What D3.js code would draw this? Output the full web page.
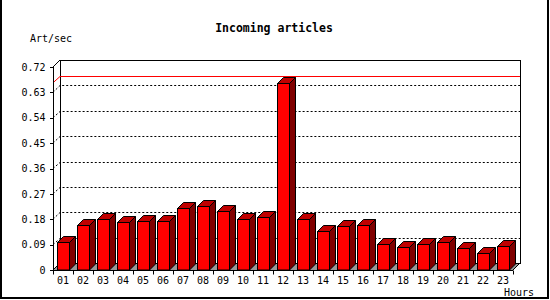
<!DOCTYPE html>
<html>
<head>
<meta charset="utf-8">
<script src="https://cdn.jsdelivr.net/npm/d3@7"></script>
<style>
  body { margin: 0; background: #fff; }
  svg { display: block; }
  text { font-family: "DejaVu Sans Mono", monospace; fill: #000; }
</style>
</head>
<body>
<svg id="chart" width="550" height="300"></svg>
<script>
// data
const hours = ['01','02','03','04','05','06','07','08','09','10','11','12',
  '13','14','15','16','17','18','19','20','21','22','23'];
const artPerSec = [0.098, 0.158, 0.180, 0.169, 0.173, 0.173, 0.219, 0.226, 0.208, 0.180, 0.187, 0.664,
  0.180, 0.137, 0.155, 0.158, 0.091, 0.080, 0.091, 0.098, 0.077, 0.059, 0.084];
const yTicks = [0, 0.09, 0.18, 0.27, 0.36, 0.45, 0.54, 0.63, 0.72];

const svg = d3.select('#chart');
const depth = 7;      // axis/back-wall offset
const barDepth = 6;

const x = d3.scaleBand()
  .domain(hours)
  .range([53, 513])
  .paddingInner(0.4)
  .paddingOuter(0.2);
const y = d3.scaleLinear()
  .domain([0, 0.72])
  .range([270, 67]);

const x0 = x.range()[0], x1 = x.range()[1];
const y0 = y(0), yTop = y(0.72);

// outer frame (left, right, bottom)
svg.append('path')
  .attr('d', 'M1,0 V298 H548 V0')
  .attr('fill', 'none')
  .attr('stroke', '#000')
  .attr('stroke-width', 2);

// floor
svg.append('path')
  .attr('d', `M${x0},${y0} L${x0 + depth},${y0 - depth} L${x1 + depth},${y0 - depth} L${x1},${y0} Z`)
  .attr('fill', '#999')
  .attr('stroke', 'none');

// back wall box
svg.append('path')
  .attr('d', `M${x0 + depth + 0.5},${y0 - depth} V${yTop - depth + 0.5} H${x1 + depth + 0.5} V${y0 - depth + 0.5} H${x0 + depth}`)
  .attr('fill', 'none')
  .attr('stroke', '#000')
  .attr('shape-rendering', 'crispEdges');
svg.append('path')
  .attr('d', `M${x0},${yTop} L${x0 + depth},${yTop - depth} M${x0},${y0} L${x0 + depth},${y0 - depth} M${x1},${y0} L${x1 + depth},${y0 - depth}`)
  .attr('fill', 'none')
  .attr('stroke', '#000');

// dotted grid
svg.append('g')
  .selectAll('path')
  .data(yTicks.filter(d => d > 0 && d < 0.72))
  .enter()
  .append('path')
  .attr('d', d => `M${x0},${y(d)} L${x0 + depth},${Math.round(y(d)) - depth + 0.5} H${x1 + depth}`)
  .attr('fill', 'none')
  .attr('stroke', '#000')
  .attr('stroke-dasharray', '2,2');

// max line
const maxV = d3.max(artPerSec);
svg.append('path')
  .attr('d', `M${x0},${y(maxV)} L${x0 + depth},${Math.round(y(maxV)) - depth + 0.5} H${x1 + depth}`)
  .attr('fill', 'none')
  .attr('stroke', '#f00');

// bars
const bars = svg.append('g')
  .selectAll('g')
  .data(hours.map((h, i) => ({ hour: h, value: artPerSec[i] })))
  .enter()
  .append('g')
  .attr('stroke', '#000')
  .attr('stroke-linejoin', 'miter');

bars.append('path')
  .attr('d', d => {
    const bx = Math.round(x(d.hour)) + 0.5, bw = x.bandwidth(), by = Math.round(y(d.value)) + 0.5;
    return `M${bx + bw},${y0} L${bx + bw + barDepth},${y0 - barDepth} V${by - barDepth} L${bx + bw},${by} Z`;
  })
  .attr('fill', '#800000');
bars.append('path')
  .attr('d', d => {
    const bx = Math.round(x(d.hour)) + 0.5, bw = x.bandwidth(), by = Math.round(y(d.value)) + 0.5;
    return `M${bx},${by} L${bx + barDepth},${by - barDepth} H${bx + bw + barDepth} L${bx + bw},${by} Z`;
  })
  .attr('fill', '#c00000');
bars.append('rect')
  .attr('x', d => Math.round(x(d.hour)) + 0.5)
  .attr('y', d => Math.round(y(d.value)) + 0.5)
  .attr('width', x.bandwidth())
  .attr('height', d => y0 - Math.round(y(d.value)) - 0.5)
  .attr('fill', '#f00');

// y axis
const yAxis = svg.append('g')
  .attr('transform', `translate(${x0 + 0.5},0)`)
  .call(d3.axisLeft(y)
    .tickValues(yTicks)
    .tickSize(4)
    .tickPadding(4)
    .tickFormat(d => d === 0 ? '0' : d3.format('.2f')(d)));
yAxis.select('.domain').attr('d', `M0,${yTop} V${y0}`).attr('stroke', '#000');
yAxis.selectAll('text').attr('font-size', 10).attr('font-family', '"DejaVu Sans Mono", monospace');
yAxis.selectAll('line').attr('shape-rendering', 'crispEdges');

// x axis
const xAxis = svg.append('g')
  .attr('transform', `translate(0,${y0 + 0.5})`);
xAxis.append('line')
  .attr('x1', x0).attr('x2', x1)
  .attr('stroke', '#000');
xAxis.selectAll('.tick')
  .data(hours.concat(['end']))
  .enter()
  .append('line')
  .attr('x1', (d, i) => Math.round(x0 + i * x.step()) + 0.5)
  .attr('x2', (d, i) => Math.round(x0 + i * x.step()) + 0.5)
  .attr('y1', 0)
  .attr('y2', 4)
  .attr('stroke', '#000');
xAxis.selectAll('text')
  .data(hours)
  .enter()
  .append('text')
  .attr('x', d => x(d) + x.bandwidth() / 2)
  .attr('y', 13)
  .attr('text-anchor', 'middle')
  .attr('font-size', 10)
  .text(d => d);

// titles
svg.append('text')
  .attr('x', 274)
  .attr('y', 32)
  .attr('text-anchor', 'middle')
  .attr('font-size', 11.5)
  .attr('font-weight', 'bold')
  .text('Incoming articles');
svg.append('text')
  .attr('x', 30)
  .attr('y', 42)
  .attr('font-size', 10)
  .text('Art/sec');
svg.append('text')
  .attr('x', 534)
  .attr('y', 296)
  .attr('text-anchor', 'end')
  .attr('font-size', 10)
  .text('Hours');
</script>
</body>
</html>
